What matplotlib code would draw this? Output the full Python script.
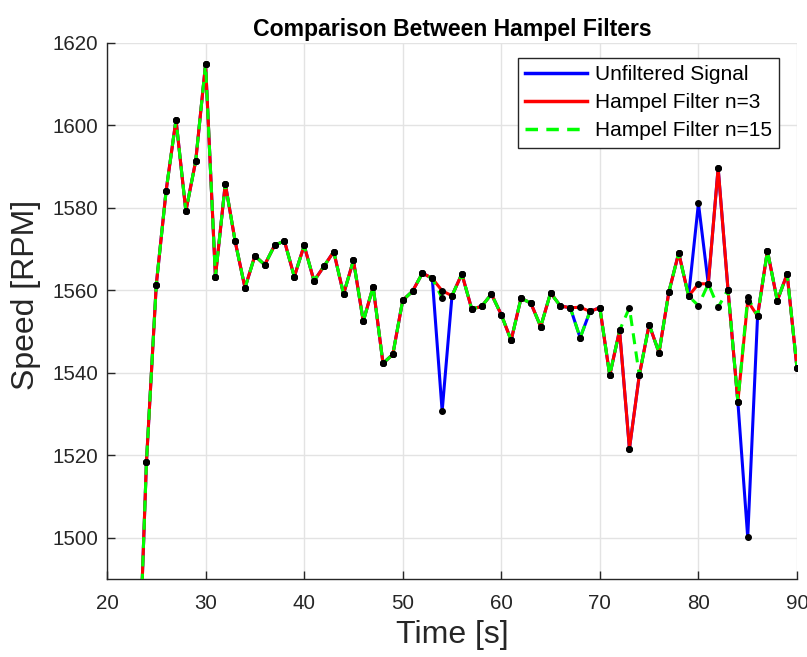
import matplotlib
matplotlib.use("Agg")
import matplotlib.pyplot as plt

plt.rcParams['font.family'] = ['Liberation Sans', 'DejaVu Sans']

time_s = list(range(23, 91))

unfiltered = [1451.0, 1518.3, 1561.4, 1584.2, 1601.4, 1579.2, 1591.4, 1614.9,
              1563.3, 1585.9, 1571.9, 1560.6, 1568.4, 1566.2, 1570.9, 1572.0,
              1563.3, 1570.9, 1562.3, 1565.8, 1569.4, 1559.1, 1567.3, 1552.5,
              1560.9, 1542.3, 1544.5, 1557.6, 1559.8, 1564.2, 1562.9, 1530.7,
              1558.7, 1564.0, 1555.5, 1556.1, 1559.1, 1554.1, 1547.9, 1558.1,
              1556.9, 1551.2, 1559.4, 1556.2, 1555.8, 1548.5, 1554.9, 1555.8,
              1539.4, 1550.3, 1521.6, 1539.4, 1551.7, 1544.9, 1559.6, 1569.1,
              1558.6, 1581.1, 1561.6, 1589.7, 1560.2, 1533.0, 1500.1, 1553.8,
              1569.6, 1557.5, 1564.0, 1541.1]

hampel_n3 = [1451.0, 1518.3, 1561.4, 1584.2, 1601.4, 1579.2, 1591.4, 1614.9,
             1563.3, 1585.9, 1571.9, 1560.6, 1568.4, 1566.2, 1570.9, 1572.0,
             1563.3, 1570.9, 1562.3, 1565.8, 1569.4, 1559.1, 1567.3, 1552.5,
             1560.9, 1542.3, 1544.5, 1557.6, 1559.8, 1564.2, 1562.9, 1559.9,
             1558.7, 1564.0, 1555.5, 1556.1, 1559.1, 1554.1, 1547.9, 1558.1,
             1556.9, 1551.2, 1559.4, 1556.2, 1555.8, 1555.9, 1554.9, 1555.8,
             1539.4, 1550.3, 1521.6, 1539.4, 1551.7, 1544.9, 1559.6, 1569.1,
             1558.6, 1561.6, 1561.6, 1589.7, 1560.2, 1533.0, 1557.4, 1553.8,
             1569.6, 1557.5, 1564.0, 1541.1]

hampel_n15 = [1451.0, 1518.3, 1561.4, 1584.2, 1601.4, 1579.2, 1591.4, 1614.9,
              1563.3, 1585.9, 1571.9, 1560.6, 1568.4, 1566.2, 1570.9, 1572.0,
              1563.3, 1570.9, 1562.3, 1565.8, 1569.4, 1559.1, 1567.3, 1552.5,
              1560.9, 1542.3, 1544.5, 1557.6, 1559.8, 1564.2, 1562.9, 1558.1,
              1558.7, 1564.0, 1555.5, 1556.1, 1559.1, 1554.1, 1547.9, 1558.1,
              1556.9, 1551.2, 1559.4, 1556.2, 1555.8, 1548.5, 1554.9, 1555.8,
              1539.4, 1550.3, 1555.8, 1539.4, 1551.7, 1544.9, 1559.6, 1569.1,
              1558.6, 1556.3, 1561.6, 1555.9, 1560.2, 1533.0, 1558.3, 1553.8,
              1569.6, 1557.5, 1564.0, 1541.1]

labels = ['Unfiltered Signal', 'Hampel Filter n=3', 'Hampel Filter n=15']
x_ticks = [20, 30, 40, 50, 60, 70, 80, 90]
y_ticks = [1500, 1520, 1540, 1560, 1580, 1600, 1620]

dark = '#262626'

fig = plt.figure(figsize=(8.07, 6.57), dpi=100)
ax = fig.add_axes([107 / 807, 1 - 579 / 657, 690 / 807, 536 / 657])

lw = 2.2
ax.plot(time_s, unfiltered, color='#0000ff', lw=lw, label=labels[0], zorder=3)
ax.plot(time_s, hampel_n3, color='#ff0000', lw=lw, label=labels[1], zorder=4)
ax.plot(time_s, hampel_n15, color='#00ff00', lw=lw, linestyle=(0, (3.6, 2.4)),
        label=labels[2], zorder=5)
for series in (unfiltered, hampel_n3, hampel_n15):
    ax.plot(time_s, series, linestyle='none', marker='o', ms=4.0,
            color='black', zorder=6)

ax.set_xlim(20, 90)
ax.set_ylim(1490, 1620)
ax.set_xticks(x_ticks)
ax.set_yticks(y_ticks)

ax.grid(True, color='#e3e3e3', lw=1.0, zorder=0)
ax.set_axisbelow(True)
for side in ('top', 'right'):
    ax.spines[side].set_visible(False)
for side in ('left', 'bottom'):
    ax.spines[side].set_color(dark)
    ax.spines[side].set_linewidth(1.0)

ax.tick_params(axis='both', direction='in', length=5.5, width=1.0,
               colors=dark, labelsize=14.8)
ax.tick_params(axis='y', pad=6.5)
ax.tick_params(axis='x', pad=11)

ax.set_title('Comparison Between Hampel Filters', fontsize=16.6,
             fontweight='bold', color='black', pad=5)
ax.set_xlabel('Time [s]', fontsize=23, color=dark, labelpad=5)
ax.set_ylabel('Speed [RPM]', fontsize=23, color=dark)
ax.yaxis.set_label_coords(-0.095, 0.53)

leg = ax.legend(loc='upper right', bbox_to_anchor=(0.974, 0.972),
                borderaxespad=0, fontsize=15, frameon=True, fancybox=False,
                framealpha=1, edgecolor=dark, handlelength=3.0,
                handletextpad=0.35, labelspacing=0.43, borderpad=0.35)
leg.get_frame().set_linewidth(1.0)
for line in leg.get_lines():
    line.set_linewidth(2.5)

fig.savefig('out.png', dpi=100)
